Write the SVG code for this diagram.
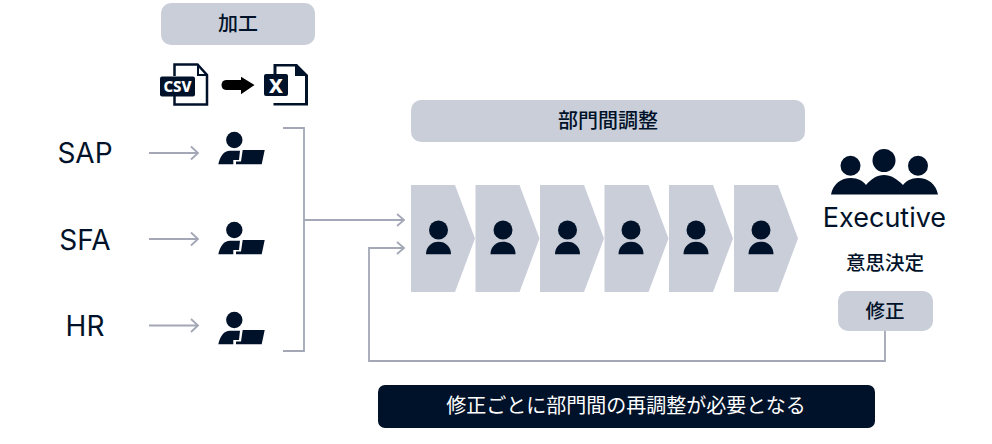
<svg xmlns="http://www.w3.org/2000/svg" width="992" height="444" viewBox="0 0 992 444">
<style>
.t{font-family:"Noto Sans CJK JP","Noto Sans",sans-serif;fill:#001229;text-anchor:middle;font-weight:500}
.l{font-family:"Inter","Noto Sans",sans-serif;fill:#001229;text-anchor:middle}
.b{fill:#c9ced9}
.d{fill:#001229}
.c{fill:none;stroke:#a3a7b6;stroke-width:1.800}
</style>
<defs>
<g id="worker"><circle cx="16.300" cy="9" r="8.200" class="d"/><path class="d" d="M0.300 33.300C2 25 6 19.700 12 19.700H22L21 29H15.300V33.300Z"/><path class="d" d="M24.700 19H46.700L43.700 33.300H18V30.500H23Z"/></g>
<g id="person"><circle cx="0" cy="-8" r="9.500" class="d"/><path class="d" d="M-12.500 16.300C-12.500 8.500 -7 3.700 0 3.700S12.500 8.500 12.500 16.300Z"/></g>
<path id="chev" class="b" d="M0 0H44L64 53.500L44 107H0Z"/>
</defs>
<g id="connectors">
<path class="c" d="M149 153H198M191 146.500L198 153L191 159.500"/>
<path class="c" d="M149 239H198M191 232.500L198 239L191 245.500"/>
<path class="c" d="M149 325.500H198M191 319L198 325.500L191 332"/>
<path class="c" d="M283 128H304V351H283"/>
<path class="c" d="M304 220H403M397 214L404 220L397 226"/>
<path class="c" d="M885 331V361H369V248H403M397 242L404 248L397 254"/>
</g>
<g id="node-kako"><rect x="161" y="3" width="154" height="42" rx="10" class="b"/><text class="t" x="238" y="31" font-size="20">加工</text></g>
<g id="node-convert">
<path fill="none" stroke="#001229" stroke-width="2.500" d="M174.500 76V64.500H197.500L207 75V104.500H174.500V96"/>
<path fill="none" stroke="#001229" stroke-width="2" d="M198 65V75H207"/>
<rect x="160" y="76.500" width="35" height="20" rx="2" class="d"/>
<text x="177.500" y="91.500" font-family="'Noto Sans','Liberation Sans',sans-serif" font-size="15" font-weight="800" fill="#fff" text-anchor="middle">CSV</text>
<path d="M226 80H241V76.700L254.500 85L241 94.300V90H226C220 90 220 80 226 80Z" fill="#000"/>
<path class="d" d="M273.500 64H297L308 75V105.500H273.500V103H305V76H295V66.500H276.500V74H273.500Z"/>
<rect x="264" y="74" width="24" height="22" rx="2" class="d"/>
<text x="276" y="92.500" font-family="'Noto Sans','Liberation Sans',sans-serif" font-size="20" font-weight="800" fill="#fff" text-anchor="middle">X</text>
</g>
<g id="node-sap"><text class="l" x="85" y="163" font-size="28">SAP</text><use href="#worker" x="218" y="131"/></g>
<g id="node-sfa"><text class="l" x="85" y="250" font-size="28">SFA</text><use href="#worker" x="218" y="221"/></g>
<g id="node-hr"><text class="l" x="85" y="336" font-size="28">HR</text><use href="#worker" x="218" y="311"/></g>
<g id="node-bumon"><rect x="411" y="100" width="394" height="42" rx="10" class="b"/><text class="t" x="608" y="128" font-size="20">部門間調整</text></g>
<g id="node-step1"><use href="#chev" x="411" y="185"/><use href="#person" x="438.500" y="238"/></g>
<g id="node-step2"><use href="#chev" x="475.500" y="185"/><use href="#person" x="503" y="238"/></g>
<g id="node-step3"><use href="#chev" x="540" y="185"/><use href="#person" x="567.500" y="238"/></g>
<g id="node-step4"><use href="#chev" x="604.500" y="185"/><use href="#person" x="631" y="238"/></g>
<g id="node-step5"><use href="#chev" x="669" y="185"/><use href="#person" x="696" y="238"/></g>
<g id="node-step6"><use href="#chev" x="734" y="185"/><use href="#person" x="761" y="238"/></g>
<g id="node-exec">
<circle cx="850.500" cy="165.700" r="10" class="d"/><circle cx="884" cy="160.500" r="11.500" class="d"/><circle cx="918" cy="165.700" r="10" class="d"/>
<path class="d" d="M831 194.500C833 184 841 178 851 178C858 178 863 181 866 185C871 179 877 175 884 175C891 175 897 179 903 185C906 181 911 178 918 178C928 178 936 184 938 194.500Z"/>
<text class="l" x="884.500" y="227" font-size="27">Executive</text>
<text class="t" x="885" y="270" font-size="19.500">意思決定</text>
</g>
<g id="node-fix"><rect x="838" y="291" width="95" height="40" rx="10" class="b"/><text class="t" x="885" y="318" font-size="19.500">修正</text></g>
<g id="node-note"><rect x="378" y="385" width="497" height="43" rx="7" class="d"/><text class="t" x="626" y="413" font-size="20" style="fill:#fff;font-weight:400">修正ごとに部門間の再調整が必要となる</text></g>
</svg>
